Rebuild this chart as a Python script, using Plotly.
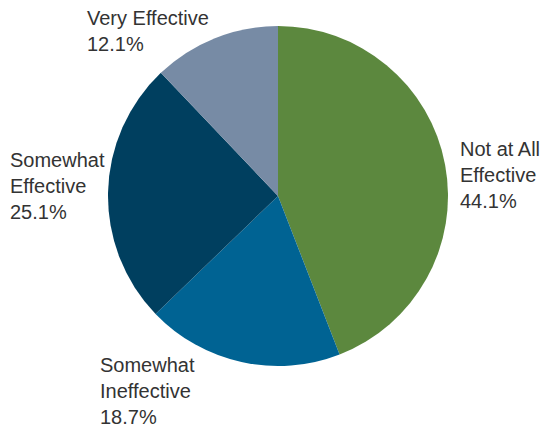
import plotly.graph_objects as go

categories = ["Not at All Effective", "Somewhat Ineffective", "Somewhat Effective", "Very Effective"]
values = [44.1, 18.7, 25.1, 12.1]
label_lines = [["Not at All", "Effective"], ["Somewhat", "Ineffective"], ["Somewhat", "Effective"], ["Very Effective"]]
colors = ["#5c883e", "#006393", "#003f5f", "#778ba5"]

W, H = 549, 428
# label anchor (left x, middle-y of the block) in pixels
label_pos = [(458, 175), (98, 391), (8, 186), (85, 31)]

fig = go.Figure(go.Pie(
    labels=categories, values=values, sort=False, direction="clockwise", rotation=0,
    marker=dict(colors=colors, line=dict(width=0)), textinfo="none", hoverinfo="label+percent",
    showlegend=False,
    domain=dict(x=[108 / W, 448 / W], y=[1 - 366 / H, 1 - 26 / H]),
))

for lines, v, (px, py) in zip(label_lines, values, label_pos):
    fig.add_annotation(
        text="<br>".join(lines + [f"{v:.1f}%"]),
        xref="paper", yref="paper", x=px / W, y=1 - py / H,
        xanchor="left", yanchor="middle", align="left", showarrow=False,
        font=dict(family="Liberation Sans, Arial, sans-serif", size=20, color="#333333"),
    )

fig.update_layout(width=W, height=H, margin=dict(l=0, r=0, t=0, b=0),
                  paper_bgcolor="white", plot_bgcolor="white")
fig.write_html("out.html", config={"displayModeBar": False})

with open("out.html", encoding="utf-8") as f:
    html = f.read()
html = html.replace("<body>", '<body style="margin:0;padding:0;overflow:hidden">', 1)
with open("out.html", "w", encoding="utf-8") as f:
    f.write(html)
